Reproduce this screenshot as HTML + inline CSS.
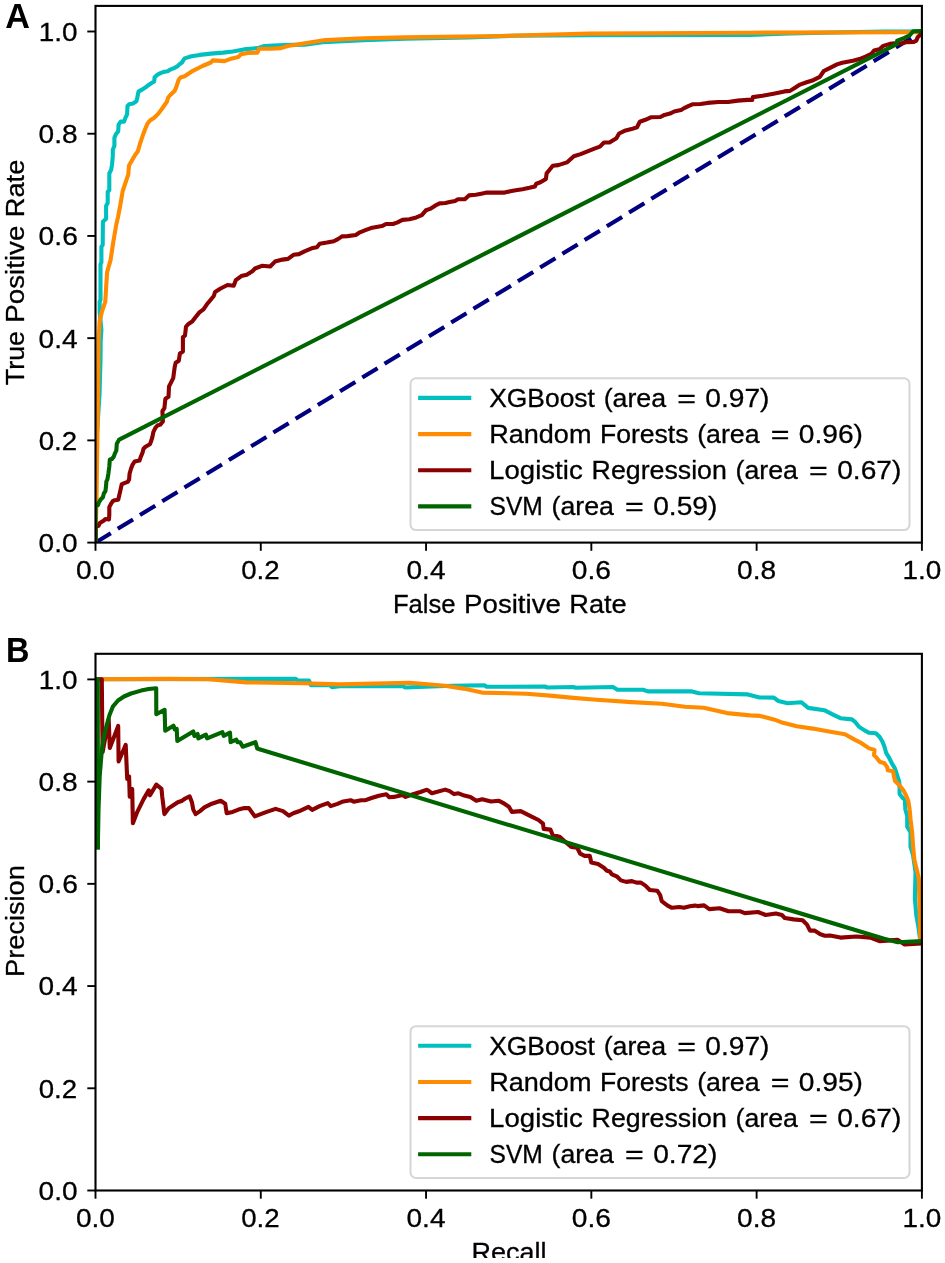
<!DOCTYPE html>
<html><head><meta charset="utf-8"><title>ROC and PR curves</title>
<style>html,body{margin:0;padding:0;background:#fff;} body{width:945px;height:1263px;overflow:hidden;font-family:"Liberation Sans",sans-serif;} svg{display:block;will-change:transform;}</style>
</head><body>
<svg width="945" height="1263" viewBox="0 0 945 1263">
<rect width="945" height="1263" fill="#fff"/>
<defs><clipPath id="ca"><rect x="95.5" y="5.9" width="826.40" height="536.70"/></clipPath><clipPath id="cb"><rect x="95.5" y="653.8" width="826.40" height="536.70"/></clipPath></defs>
<g clip-path="url(#ca)">
<line x1="95.5" y1="542.6" x2="921.9" y2="31.5" stroke="#000080" stroke-width="4.1" stroke-dasharray="18 8.14"/>
<polyline points="95.5,542.6 95.5,480.0 96.5,440.0 98.5,410.0 99.5,395.0 100.5,360.0 100.7,340.0 101.4,330.0 99.7,312.0 99.7,301.7 100.5,300.0 100.5,264.2 101.4,262.5 101.4,246.8 102.7,245.1 102.9,221.8 106.1,218.7 106.1,206.0 107.7,202.8 107.7,191.8 109.3,190.2 109.3,173.5 111.2,169.6 112.0,164.8 112.8,156.1 112.8,149.8 114.4,145.8 114.4,137.9 116.0,134.0 118.2,131.4 118.6,124.6 120.7,121.6 124.1,121.6 125.4,117.8 127.1,114.4 127.5,106.0 129.2,104.3 133.0,103.4 136.4,101.3 137.3,97.5 138.5,91.6 141.5,89.9 145.7,87.3 148.3,85.2 150.8,83.5 154.2,81.4 154.6,77.2 157.6,74.6 161.0,72.9 164.4,71.7 167.7,71.2 170.3,69.6 174.5,67.9 177.5,66.2 179.1,64.6 181.9,62.5 184.6,58.4 191.5,56.3 199.8,54.9 210.8,53.6 223.1,52.6 232.8,51.5 243.8,49.4 257.5,48.1 264.4,46.0 278.2,45.3 291.9,44.9 305.0,44.6 322.5,42.1 363.8,40.1 405.1,38.8 468.3,37.4 512.0,35.8 589.0,35.2 750.0,35.0 790.0,33.4 884.0,31.5 921.9,31.5" fill="none" stroke="#00bfbf" stroke-width="4.1" stroke-linejoin="round" stroke-linecap="butt" />
<polyline points="95.5,542.6 96.5,500.0 97.2,450.0 97.7,418.6 98.3,371.0 98.6,340.0 99.7,320.9 101.8,312.2 105.3,301.7 106.2,286.0 107.1,272.1 110.6,259.9 113.2,242.4 116.2,225.0 118.0,217.1 120.3,205.2 122.7,191.0 128.3,174.3 129.0,165.6 135.4,154.5 137.8,151.4 140.1,143.5 142.5,136.3 144.9,129.7 147.4,123.7 150.0,120.4 154.2,117.8 158.4,113.6 162.7,107.7 166.9,101.7 168.2,97.5 170.3,95.0 174.5,91.1 176.2,87.3 178.7,79.7 180.5,77.5 184.6,76.3 192.9,70.8 202.5,66.0 210.8,62.5 212.8,60.4 224.5,61.1 230.0,59.1 238.3,57.0 241.0,54.3 247.9,52.9 257.5,52.6 258.9,48.8 271.3,48.8 280.9,48.1 287.8,46.0 305.0,43.3 325.3,40.1 363.8,38.2 405.1,37.4 460.1,36.6 490.0,36.3 589.0,33.6 750.0,32.7 910.0,32.3 921.9,32.3" fill="none" stroke="#ff8c00" stroke-width="4.1" stroke-linejoin="round" stroke-linecap="butt" />
<polyline points="95.5,542.6 95.5,527.0 98.5,525.9 99.9,523.0 103.9,520.5 105.4,519.0 108.9,519.5 109.3,515.0 109.3,507.1 110.8,504.2 112.8,501.2 114.8,500.2 118.3,499.7 118.8,497.2 120.2,491.3 121.7,484.4 123.7,483.4 127.7,481.9 129.1,479.4 129.6,473.5 131.1,468.5 132.6,464.6 134.6,461.6 139.5,460.6 140.5,457.6 142.5,452.7 143.5,448.7 145.5,446.7 149.9,444.3 150.9,441.8 152.4,436.8 153.4,431.9 155.4,427.9 157.4,425.5 160.3,424.6 162.9,421.5 162.4,411.2 164.4,408.1 165.4,398.8 168.5,396.8 169.0,386.5 170.6,383.4 173.2,378.2 174.7,366.9 175.7,362.8 178.8,360.7 179.9,353.5 182.9,351.5 182.9,337.1 185.0,335.5 186.0,326.8 188.1,324.2 192.2,321.6 195.3,317.5 199.4,312.4 203.5,309.3 206.9,304.3 210.3,300.2 213.8,296.0 215.1,291.9 220.6,288.5 227.5,285.0 233.7,285.7 235.8,280.2 241.3,276.1 246.8,274.7 252.3,271.3 255.0,268.5 261.9,265.8 270.2,266.5 275.0,261.6 282.5,259.6 288.0,258.9 293.5,254.8 299.0,254.1 304.5,251.3 312.8,247.9 316.9,247.2 319.7,243.8 326.9,242.6 333.8,241.2 337.9,239.1 342.0,236.4 347.5,236.1 355.8,235.0 359.9,232.3 365.4,230.2 370.9,228.1 377.8,226.8 381.9,226.1 386.0,224.0 392.9,224.0 397.0,222.6 402.5,219.9 409.4,219.2 416.3,217.4 421.8,215.1 425.9,210.3 430.0,208.9 435.5,205.4 439.7,203.4 445.5,203.0 449.6,202.0 455.1,200.9 457.9,199.2 464.8,199.2 468.9,195.4 475.8,194.7 481.3,193.7 486.8,192.6 504.6,192.6 510.2,191.3 515.7,190.2 522.5,189.2 529.4,187.8 534.9,186.5 536.3,183.7 540.4,182.3 545.9,178.9 546.6,173.4 550.0,169.3 552.8,165.8 558.3,165.1 566.9,162.4 573.8,156.2 580.6,154.1 587.5,151.4 594.4,148.6 599.9,146.6 604.0,142.5 609.5,142.5 616.4,138.3 619.1,133.5 624.6,130.8 631.5,129.1 637.0,127.3 639.8,121.8 645.3,119.8 650.8,117.3 660.4,117.0 664.5,114.9 670.0,113.6 674.2,111.5 681.0,110.1 684.1,108.1 688.3,106.1 692.4,104.3 700.6,104.0 707.5,102.9 718.5,102.0 728.1,102.0 737.8,100.6 747.4,99.9 752.2,99.9 752.9,97.1 762.5,95.8 773.5,93.7 784.5,91.4 790.0,90.9 794.2,88.2 800.0,84.6 806.6,82.2 813.2,80.2 819.8,76.9 823.8,71.0 829.1,68.3 837.0,64.4 842.3,62.7 852.9,60.8 859.5,59.1 866.1,56.4 871.4,53.8 874.1,50.5 879.4,49.2 883.3,45.9 889.9,43.9 895.2,43.2 900.5,43.6 905.8,42.3 913.8,41.9 916.4,40.6 917.7,37.3 920.4,34.6 921.9,31.5" fill="none" stroke="#8b0000" stroke-width="4.1" stroke-linejoin="round" stroke-linecap="butt" />
<polyline points="95.5,542.6 95.5,504.2 98.0,505.1 99.0,502.2 100.9,499.2 102.9,497.2 103.9,493.3 105.4,491.3 105.9,487.3 106.4,481.4 107.4,479.4 108.4,473.5 109.3,466.5 109.8,459.6 111.8,459.1 113.8,456.6 114.8,453.7 116.3,450.7 116.8,443.8 119.2,439.6 896.7,44.2 897.2,40.6 904.5,37.9 909.8,35.3 913.1,31.3 921.9,31.1" fill="none" stroke="#006400" stroke-width="4.1" stroke-linejoin="round" stroke-linecap="butt" />
</g>
<g clip-path="url(#cb)">
<polyline points="95.5,679.3 295.7,678.8 297.6,680.5 309.0,680.5 311.0,685.2 330.0,685.2 331.9,687.1 340.0,686.3 402.9,686.3 405.2,687.5 451.8,685.8 484.4,685.3 486.7,686.8 544.9,686.5 547.2,687.5 573.3,687.0 575.6,687.7 612.9,687.0 617.5,689.8 643.1,689.8 647.8,691.4 692.0,691.4 699.0,693.3 747.9,694.4 759.5,697.5 773.8,697.6 778.4,701.0 787.6,703.3 801.4,702.2 808.2,707.9 824.3,710.2 833.5,714.8 840.4,718.2 851.9,719.4 855.0,721.8 858.8,726.6 864.5,730.4 869.2,732.8 875.9,733.2 879.7,737.0 882.5,741.8 884.4,746.5 886.3,753.2 889.2,757.9 892.0,763.6 894.9,768.4 896.8,774.1 899.2,781.7 899.6,787.4 899.6,794.0 902.5,797.8 904.9,799.7 905.3,809.2 907.2,816.0 907.2,826.6 910.5,832.2 910.5,846.6 913.0,855.0 915.5,872.0 914.9,898.6 916.3,915.3 918.3,926.3 919.8,937.4 921.5,941.0" fill="none" stroke="#00bfbf" stroke-width="4.1" stroke-linejoin="round" stroke-linecap="butt" />
<polyline points="95.5,679.3 170.0,678.9 208.1,679.3 246.2,682.4 303.3,683.3 340.0,684.4 409.8,682.8 444.8,685.8 463.4,688.6 482.0,692.6 526.3,693.7 550.0,695.6 573.3,697.9 596.6,699.8 631.5,702.1 661.8,703.8 685.0,706.8 703.7,707.7 727.0,713.1 750.2,715.4 760.0,715.9 773.8,719.4 783.0,722.8 796.8,726.3 812.8,728.6 828.9,731.6 845.0,734.3 855.0,739.9 860.7,742.7 869.2,748.4 874.5,749.9 874.0,755.1 876.8,757.9 879.7,761.7 884.4,763.2 887.3,767.4 887.8,770.3 893.0,771.2 893.9,776.0 894.9,780.7 899.6,785.5 903.4,790.2 906.3,795.9 908.2,800.7 909.6,809.2 910.6,820.0 912.1,832.2 913.3,848.8 914.4,859.9 917.1,870.9 918.8,878.7 919.3,898.6 919.9,920.8 920.2,937.4 921.2,941.1" fill="none" stroke="#ff8c00" stroke-width="4.1" stroke-linejoin="round" stroke-linecap="butt" />
<polyline points="95.5,679.3 101.8,679.3 102.2,720.0 102.6,752.0 108.7,719.5 109.8,748.0 118.2,725.9 118.6,761.5 125.7,744.9 127.2,778.9 129.1,776.3 129.7,796.6 132.2,789.0 132.9,823.2 137.3,811.8 143.6,799.1 148.7,790.3 150.0,795.3 156.3,784.6 161.5,788.9 162.2,796.3 164.4,814.1 168.9,808.1 173.3,805.2 177.8,802.2 182.2,800.7 185.2,798.5 189.6,796.3 191.9,802.2 193.3,809.6 195.6,814.1 200.0,811.1 204.4,807.4 211.9,803.7 216.3,802.2 220.7,800.7 225.2,803.7 226.7,813.3 232.6,811.9 238.5,809.6 244.4,808.1 248.9,808.1 254.8,816.3 260.7,814.1 266.7,811.9 275.6,808.9 283.0,811.1 288.9,815.6 293.3,813.3 298.9,811.3 308.5,806.9 312.2,809.8 319.6,806.1 327.8,803.1 330.7,806.1 337.4,803.9 343.3,801.4 350.7,800.2 353.7,801.7 361.1,800.2 365.6,800.2 371.5,798.0 378.9,795.7 386.3,794.3 389.3,797.2 393.7,796.9 402.6,795.0 405.6,796.9 413.0,794.3 420.4,792.0 426.3,789.8 428.1,790.4 431.9,793.3 445.2,789.6 449.6,791.1 454.1,794.1 458.5,793.3 464.4,795.6 470.4,797.0 476.3,800.7 482.2,799.3 491.1,801.5 498.5,800.7 504.4,803.7 508.9,806.7 511.9,811.9 520.7,811.1 529.6,815.6 538.5,820.0 543.0,823.7 543.7,828.9 550.4,829.6 552.6,834.8 560.0,837.0 565.4,841.9 571.3,847.0 577.2,847.8 580.2,853.7 584.6,855.9 589.8,855.9 591.3,862.6 598.0,864.1 603.9,867.8 606.9,870.7 609.8,871.5 612.0,874.4 617.2,876.7 620.9,880.4 626.1,881.9 632.0,881.1 636.5,882.6 640.9,882.6 645.4,885.6 649.8,890.0 657.2,890.7 660.2,895.2 661.7,901.1 667.6,905.6 672.0,907.8 679.4,907.0 683.9,907.8 689.8,906.3 695.0,905.6 697.4,906.1 704.1,905.4 709.3,909.1 719.6,908.3 728.5,911.3 740.4,911.3 744.8,913.1 758.1,912.0 765.6,915.0 775.9,913.5 781.9,915.0 784.8,918.0 793.7,919.4 802.6,920.2 807.0,924.6 810.0,930.6 814.4,930.6 820.4,934.3 824.8,935.7 830.0,935.5 840.4,937.6 856.5,936.5 870.3,937.6 879.5,941.1 897.8,939.9 904.7,944.5 921.9,943.4" fill="none" stroke="#8b0000" stroke-width="4.1" stroke-linejoin="round" stroke-linecap="butt" />
<polyline points="95.5,679.3 97.8,679.3 97.8,849.4" fill="none" stroke="#006400" stroke-width="4.1" stroke-linejoin="round" stroke-linecap="butt" />
<polyline points="97.8,849.4 98.5,810.0 99.7,776.0 101.8,750.6 103.8,737.0 106.7,725.3 109.5,715.0 113.0,706.3 118.0,700.5 124.0,696.5 131.0,693.5 141.1,690.6 148.7,689.0 156.2,688.2 156.3,714.3 164.6,709.8 165.2,730.8 173.5,725.7 174.8,729.5 176.7,728.9 177.3,741.0 193.2,731.4 194.4,735.9 197.6,734.0 198.3,738.4 205.9,734.6 207.1,738.4 222.4,732.1 223.7,735.9 230.0,732.7 230.6,742.2 236.3,739.7 237.6,742.2 240.2,742.2 242.7,746.7 255.4,742.2 257.3,748.6 258.6,749.0 884.1,938.8 897.8,942.2 921.9,941.1" fill="none" stroke="#006400" stroke-width="4.1" stroke-linejoin="round" stroke-linecap="butt" />
</g>
<line x1="95.50" y1="542.6" x2="95.50" y2="550.8000000000001" stroke="#000" stroke-width="1.9"/>
<line x1="87.3" y1="542.60" x2="95.5" y2="542.60" stroke="#000" stroke-width="1.9"/>
<line x1="260.78" y1="542.6" x2="260.78" y2="550.8000000000001" stroke="#000" stroke-width="1.9"/>
<line x1="87.3" y1="440.38" x2="95.5" y2="440.38" stroke="#000" stroke-width="1.9"/>
<line x1="426.06" y1="542.6" x2="426.06" y2="550.8000000000001" stroke="#000" stroke-width="1.9"/>
<line x1="87.3" y1="338.16" x2="95.5" y2="338.16" stroke="#000" stroke-width="1.9"/>
<line x1="591.34" y1="542.6" x2="591.34" y2="550.8000000000001" stroke="#000" stroke-width="1.9"/>
<line x1="87.3" y1="235.94" x2="95.5" y2="235.94" stroke="#000" stroke-width="1.9"/>
<line x1="756.62" y1="542.6" x2="756.62" y2="550.8000000000001" stroke="#000" stroke-width="1.9"/>
<line x1="87.3" y1="133.72" x2="95.5" y2="133.72" stroke="#000" stroke-width="1.9"/>
<line x1="921.90" y1="542.6" x2="921.90" y2="550.8000000000001" stroke="#000" stroke-width="1.9"/>
<line x1="87.3" y1="31.50" x2="95.5" y2="31.50" stroke="#000" stroke-width="1.9"/>
<rect x="95.5" y="5.9" width="826.40" height="536.70" fill="none" stroke="#000" stroke-width="2.1"/>
<line x1="95.50" y1="1190.5" x2="95.50" y2="1198.7" stroke="#000" stroke-width="1.9"/>
<line x1="87.3" y1="1190.50" x2="95.5" y2="1190.50" stroke="#000" stroke-width="1.9"/>
<line x1="260.78" y1="1190.5" x2="260.78" y2="1198.7" stroke="#000" stroke-width="1.9"/>
<line x1="87.3" y1="1088.28" x2="95.5" y2="1088.28" stroke="#000" stroke-width="1.9"/>
<line x1="426.06" y1="1190.5" x2="426.06" y2="1198.7" stroke="#000" stroke-width="1.9"/>
<line x1="87.3" y1="986.06" x2="95.5" y2="986.06" stroke="#000" stroke-width="1.9"/>
<line x1="591.34" y1="1190.5" x2="591.34" y2="1198.7" stroke="#000" stroke-width="1.9"/>
<line x1="87.3" y1="883.84" x2="95.5" y2="883.84" stroke="#000" stroke-width="1.9"/>
<line x1="756.62" y1="1190.5" x2="756.62" y2="1198.7" stroke="#000" stroke-width="1.9"/>
<line x1="87.3" y1="781.62" x2="95.5" y2="781.62" stroke="#000" stroke-width="1.9"/>
<line x1="921.90" y1="1190.5" x2="921.90" y2="1198.7" stroke="#000" stroke-width="1.9"/>
<line x1="87.3" y1="679.40" x2="95.5" y2="679.40" stroke="#000" stroke-width="1.9"/>
<rect x="95.5" y="653.8" width="826.40" height="536.70" fill="none" stroke="#000" stroke-width="2.1"/>
<g font-family="Liberation Sans, sans-serif" fill="#000" stroke="#000" stroke-width="0.3">
<text y="578.70" font-size="26.7" ><tspan x="75.98" textLength="38.97" lengthAdjust="spacingAndGlyphs">0.0</tspan></text>
<text y="552.00" font-size="26.7" ><tspan x="38.64" textLength="38.97" lengthAdjust="spacingAndGlyphs">0.0</tspan></text>
<text y="578.70" font-size="26.7" ><tspan x="241.27" textLength="38.40" lengthAdjust="spacingAndGlyphs">0.2</tspan></text>
<text y="449.78" font-size="26.7" ><tspan x="38.66" textLength="38.40" lengthAdjust="spacingAndGlyphs">0.2</tspan></text>
<text y="578.70" font-size="26.7" ><tspan x="406.54" textLength="38.94" lengthAdjust="spacingAndGlyphs">0.4</tspan></text>
<text y="347.56" font-size="26.7" ><tspan x="38.64" textLength="38.94" lengthAdjust="spacingAndGlyphs">0.4</tspan></text>
<text y="578.70" font-size="26.7" ><tspan x="571.81" textLength="39.19" lengthAdjust="spacingAndGlyphs">0.6</tspan></text>
<text y="245.34" font-size="26.7" ><tspan x="38.63" textLength="39.19" lengthAdjust="spacingAndGlyphs">0.6</tspan></text>
<text y="578.70" font-size="26.7" ><tspan x="737.10" textLength="39.05" lengthAdjust="spacingAndGlyphs">0.8</tspan></text>
<text y="143.12" font-size="26.7" ><tspan x="38.64" textLength="39.05" lengthAdjust="spacingAndGlyphs">0.8</tspan></text>
<text y="578.70" font-size="26.7" ><tspan x="902.54" textLength="38.80" lengthAdjust="spacingAndGlyphs">1.0</tspan></text>
<text y="40.90" font-size="26.7" ><tspan x="38.80" textLength="38.80" lengthAdjust="spacingAndGlyphs">1.0</tspan></text>
<text y="1226.60" font-size="26.7" ><tspan x="75.98" textLength="38.97" lengthAdjust="spacingAndGlyphs">0.0</tspan></text>
<text y="1199.90" font-size="26.7" ><tspan x="38.64" textLength="38.97" lengthAdjust="spacingAndGlyphs">0.0</tspan></text>
<text y="1226.60" font-size="26.7" ><tspan x="241.27" textLength="38.40" lengthAdjust="spacingAndGlyphs">0.2</tspan></text>
<text y="1097.68" font-size="26.7" ><tspan x="38.66" textLength="38.40" lengthAdjust="spacingAndGlyphs">0.2</tspan></text>
<text y="1226.60" font-size="26.7" ><tspan x="406.54" textLength="38.94" lengthAdjust="spacingAndGlyphs">0.4</tspan></text>
<text y="995.46" font-size="26.7" ><tspan x="38.64" textLength="38.94" lengthAdjust="spacingAndGlyphs">0.4</tspan></text>
<text y="1226.60" font-size="26.7" ><tspan x="571.81" textLength="39.19" lengthAdjust="spacingAndGlyphs">0.6</tspan></text>
<text y="893.24" font-size="26.7" ><tspan x="38.63" textLength="39.19" lengthAdjust="spacingAndGlyphs">0.6</tspan></text>
<text y="1226.60" font-size="26.7" ><tspan x="737.10" textLength="39.05" lengthAdjust="spacingAndGlyphs">0.8</tspan></text>
<text y="791.02" font-size="26.7" ><tspan x="38.64" textLength="39.05" lengthAdjust="spacingAndGlyphs">0.8</tspan></text>
<text y="1226.60" font-size="26.7" ><tspan x="902.54" textLength="38.80" lengthAdjust="spacingAndGlyphs">1.0</tspan></text>
<text y="688.80" font-size="26.7" ><tspan x="38.80" textLength="38.80" lengthAdjust="spacingAndGlyphs">1.0</tspan></text>
<text y="612.50" font-size="26.7" ><tspan x="392.94" textLength="62.69" lengthAdjust="spacingAndGlyphs">False</tspan> <tspan x="464.05" textLength="96.87" lengthAdjust="spacingAndGlyphs">Positive</tspan> <tspan x="569.24" textLength="57.46" lengthAdjust="spacingAndGlyphs">Rate</tspan></text>
<g transform="translate(23.9,384.5) rotate(-90)"><text y="0.00" font-size="26.7" ><tspan x="-0.67" textLength="54.18" lengthAdjust="spacingAndGlyphs">True</tspan> <tspan x="61.83" textLength="97.06" lengthAdjust="spacingAndGlyphs">Positive</tspan> <tspan x="167.24" textLength="57.57" lengthAdjust="spacingAndGlyphs">Rate</tspan></text></g>
<g transform="translate(23.9,977.2) rotate(-90)"><text y="0.00" font-size="26.7" ><tspan x="0.21" textLength="111.88" lengthAdjust="spacingAndGlyphs">Precision</tspan></text></g>
<text y="1260.60" font-size="26.7" ><tspan x="471.55" textLength="74.95" lengthAdjust="spacingAndGlyphs">Recall</tspan></text>
</g>
<g font-family="Liberation Sans, sans-serif" fill="#000" stroke="#000" stroke-width="0.3">
<rect x="410.5" y="378.3" width="499" height="151.8" rx="5.5" ry="5.5" fill="#fff" fill-opacity="0.8" stroke="#d6d6d6" stroke-width="2"/>
<line x1="418.1" y1="397.9" x2="471.3" y2="397.9" stroke="#00bfbf" stroke-width="4.1"/>
<text y="406.60" font-size="26.2" ><tspan x="489.15" textLength="105.75" lengthAdjust="spacingAndGlyphs">XGBoost</tspan> <tspan x="603.68" textLength="62.44" lengthAdjust="spacingAndGlyphs">(area</tspan> <tspan x="677.19" textLength="18.76" lengthAdjust="spacingAndGlyphs">=</tspan> <tspan x="705.38" textLength="64.13" lengthAdjust="spacingAndGlyphs">0.97)</tspan></text>
<line x1="418.1" y1="434.1" x2="471.3" y2="434.1" stroke="#ff8c00" stroke-width="4.1"/>
<text y="442.77" font-size="26.2" ><tspan x="489.19" textLength="102.25" lengthAdjust="spacingAndGlyphs">Random</tspan> <tspan x="599.92" textLength="88.64" lengthAdjust="spacingAndGlyphs">Forests</tspan> <tspan x="697.17" textLength="62.44" lengthAdjust="spacingAndGlyphs">(area</tspan> <tspan x="770.68" textLength="18.76" lengthAdjust="spacingAndGlyphs">=</tspan> <tspan x="798.87" textLength="64.13" lengthAdjust="spacingAndGlyphs">0.96)</tspan></text>
<line x1="418.1" y1="470.2" x2="471.3" y2="470.2" stroke="#8b0000" stroke-width="4.1"/>
<text y="478.94" font-size="26.2" ><tspan x="489.14" textLength="93.56" lengthAdjust="spacingAndGlyphs">Logistic</tspan> <tspan x="591.58" textLength="135.25" lengthAdjust="spacingAndGlyphs">Regression</tspan> <tspan x="735.52" textLength="62.44" lengthAdjust="spacingAndGlyphs">(area</tspan> <tspan x="809.03" textLength="18.76" lengthAdjust="spacingAndGlyphs">=</tspan> <tspan x="837.22" textLength="64.13" lengthAdjust="spacingAndGlyphs">0.67)</tspan></text>
<line x1="418.1" y1="506.4" x2="471.3" y2="506.4" stroke="#006400" stroke-width="4.1"/>
<text y="515.11" font-size="26.2" ><tspan x="489.51" textLength="53.28" lengthAdjust="spacingAndGlyphs">SVM</tspan> <tspan x="551.50" textLength="62.44" lengthAdjust="spacingAndGlyphs">(area</tspan> <tspan x="625.02" textLength="18.76" lengthAdjust="spacingAndGlyphs">=</tspan> <tspan x="653.20" textLength="64.13" lengthAdjust="spacingAndGlyphs">0.59)</tspan></text>
<rect x="410.5" y="1026.2" width="499" height="151.8" rx="5.5" ry="5.5" fill="#fff" fill-opacity="0.8" stroke="#d6d6d6" stroke-width="2"/>
<line x1="418.1" y1="1045.8" x2="471.3" y2="1045.8" stroke="#00bfbf" stroke-width="4.1"/>
<text y="1054.50" font-size="26.2" ><tspan x="489.15" textLength="105.75" lengthAdjust="spacingAndGlyphs">XGBoost</tspan> <tspan x="603.68" textLength="62.44" lengthAdjust="spacingAndGlyphs">(area</tspan> <tspan x="677.19" textLength="18.76" lengthAdjust="spacingAndGlyphs">=</tspan> <tspan x="705.38" textLength="64.13" lengthAdjust="spacingAndGlyphs">0.97)</tspan></text>
<line x1="418.1" y1="1082.0" x2="471.3" y2="1082.0" stroke="#ff8c00" stroke-width="4.1"/>
<text y="1090.67" font-size="26.2" ><tspan x="489.19" textLength="102.25" lengthAdjust="spacingAndGlyphs">Random</tspan> <tspan x="599.92" textLength="88.64" lengthAdjust="spacingAndGlyphs">Forests</tspan> <tspan x="697.17" textLength="62.44" lengthAdjust="spacingAndGlyphs">(area</tspan> <tspan x="770.68" textLength="18.76" lengthAdjust="spacingAndGlyphs">=</tspan> <tspan x="798.87" textLength="64.13" lengthAdjust="spacingAndGlyphs">0.95)</tspan></text>
<line x1="418.1" y1="1118.1" x2="471.3" y2="1118.1" stroke="#8b0000" stroke-width="4.1"/>
<text y="1126.84" font-size="26.2" ><tspan x="489.14" textLength="93.56" lengthAdjust="spacingAndGlyphs">Logistic</tspan> <tspan x="591.58" textLength="135.25" lengthAdjust="spacingAndGlyphs">Regression</tspan> <tspan x="735.52" textLength="62.44" lengthAdjust="spacingAndGlyphs">(area</tspan> <tspan x="809.03" textLength="18.76" lengthAdjust="spacingAndGlyphs">=</tspan> <tspan x="837.22" textLength="64.13" lengthAdjust="spacingAndGlyphs">0.67)</tspan></text>
<line x1="418.1" y1="1154.3" x2="471.3" y2="1154.3" stroke="#006400" stroke-width="4.1"/>
<text y="1163.01" font-size="26.2" ><tspan x="489.51" textLength="53.28" lengthAdjust="spacingAndGlyphs">SVM</tspan> <tspan x="551.50" textLength="62.44" lengthAdjust="spacingAndGlyphs">(area</tspan> <tspan x="625.02" textLength="18.76" lengthAdjust="spacingAndGlyphs">=</tspan> <tspan x="653.20" textLength="64.13" lengthAdjust="spacingAndGlyphs">0.72)</tspan></text>
</g>
<g font-family="Liberation Sans, sans-serif" font-size="34.2" font-weight="bold" fill="#000">
<text x="5.2" y="27.77">A</text>
<text x="6.07" y="661.77" textLength="23.45" lengthAdjust="spacingAndGlyphs">B</text>
</g>
<rect x="0" y="1258" width="945" height="5" fill="#fff"/>
</svg>
</body></html>
